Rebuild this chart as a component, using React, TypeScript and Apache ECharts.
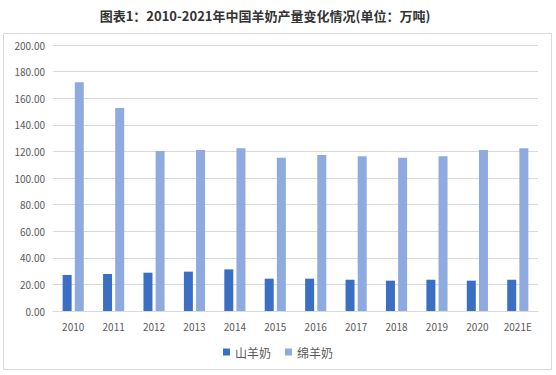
import React, { useEffect, useRef } from "react";
import * as echarts from "echarts";

const categories = ["2010", "2011", "2012", "2013", "2014", "2015", "2016", "2017", "2018", "2019", "2020", "2021E"];
const goatMilk = [27.1, 27.8, 28.8, 29.6, 31.3, 24.3, 24.3, 23.5, 22.8, 23.5, 22.8, 23.5];
const sheepMilk = [171.9, 152.6, 120.3, 121.0, 122.3, 115.3, 117.3, 116.3, 115.3, 116.3, 121.0, 122.3];
const seriesNames = ["山羊奶", "绵羊奶"];
const titleText = "图表1：2010-2021年中国羊奶产量变化情况(单位：万吨)";

export default function App() {
  const ref = useRef<HTMLDivElement>(null);
  useEffect(() => {
    if (!ref.current) return;
    const chart = echarts.init(ref.current, null, { renderer: "svg" });
    const font = "'Noto Sans CJK SC', 'Microsoft YaHei', sans-serif";
    chart.setOption({
      animation: false,
      backgroundColor: "#ffffff",
      title: {
        text: titleText,
        left: 260,
        textAlign: "center",
        top: 4,
        textStyle: { fontSize: 13, fontWeight: "bold", color: "#333333", fontFamily: font },
      },
      graphic: [
        {
          type: "rect",
          shape: { x: 3.5, y: 33.5, width: 548, height: 336 },
          style: { fill: "none", stroke: "#d9d9d9", lineWidth: 1 },
          silent: true,
        },
      ],
      legend: {
        data: seriesNames,
        bottom: 12,
        left: "center",
        itemWidth: 7,
        itemHeight: 7,
        itemGap: 14,
        icon: "rect",
        textStyle: { fontSize: 12, color: "#595959", fontFamily: font },
      },
      grid: { left: 53, right: 18, top: 45, bottom: 64 },
      xAxis: {
        type: "category",
        data: categories,
        axisLine: { lineStyle: { color: "#d9d9d9" } },
        axisTick: { show: false },
        axisLabel: { fontSize: 10, color: "#595959", margin: 10, fontFamily: font },
      },
      yAxis: {
        type: "value",
        min: 0,
        max: 200,
        interval: 20,
        axisLine: { show: false },
        axisTick: { show: false },
        splitLine: { lineStyle: { color: "#d9d9d9" } },
        axisLabel: {
          fontSize: 10,
          color: "#595959",
          margin: 8,
          fontFamily: font,
          formatter: (v: number) => v.toFixed(2),
        },
      },
      series: [
        {
          name: seriesNames[0],
          type: "bar",
          data: goatMilk,
          barWidth: 9,
          barGap: "35%",
          itemStyle: { color: "#3a6fc4" },
        },
        {
          name: seriesNames[1],
          type: "bar",
          data: sheepMilk,
          barWidth: 9,
          itemStyle: { color: "#8eaadf" },
        },
      ],
    });
    return () => chart.dispose();
  }, []);
  return (
    <div
      ref={ref}
      style={{ position: "fixed", left: 0, top: 0, width: 556, height: 375 }}
    />
  );
}
